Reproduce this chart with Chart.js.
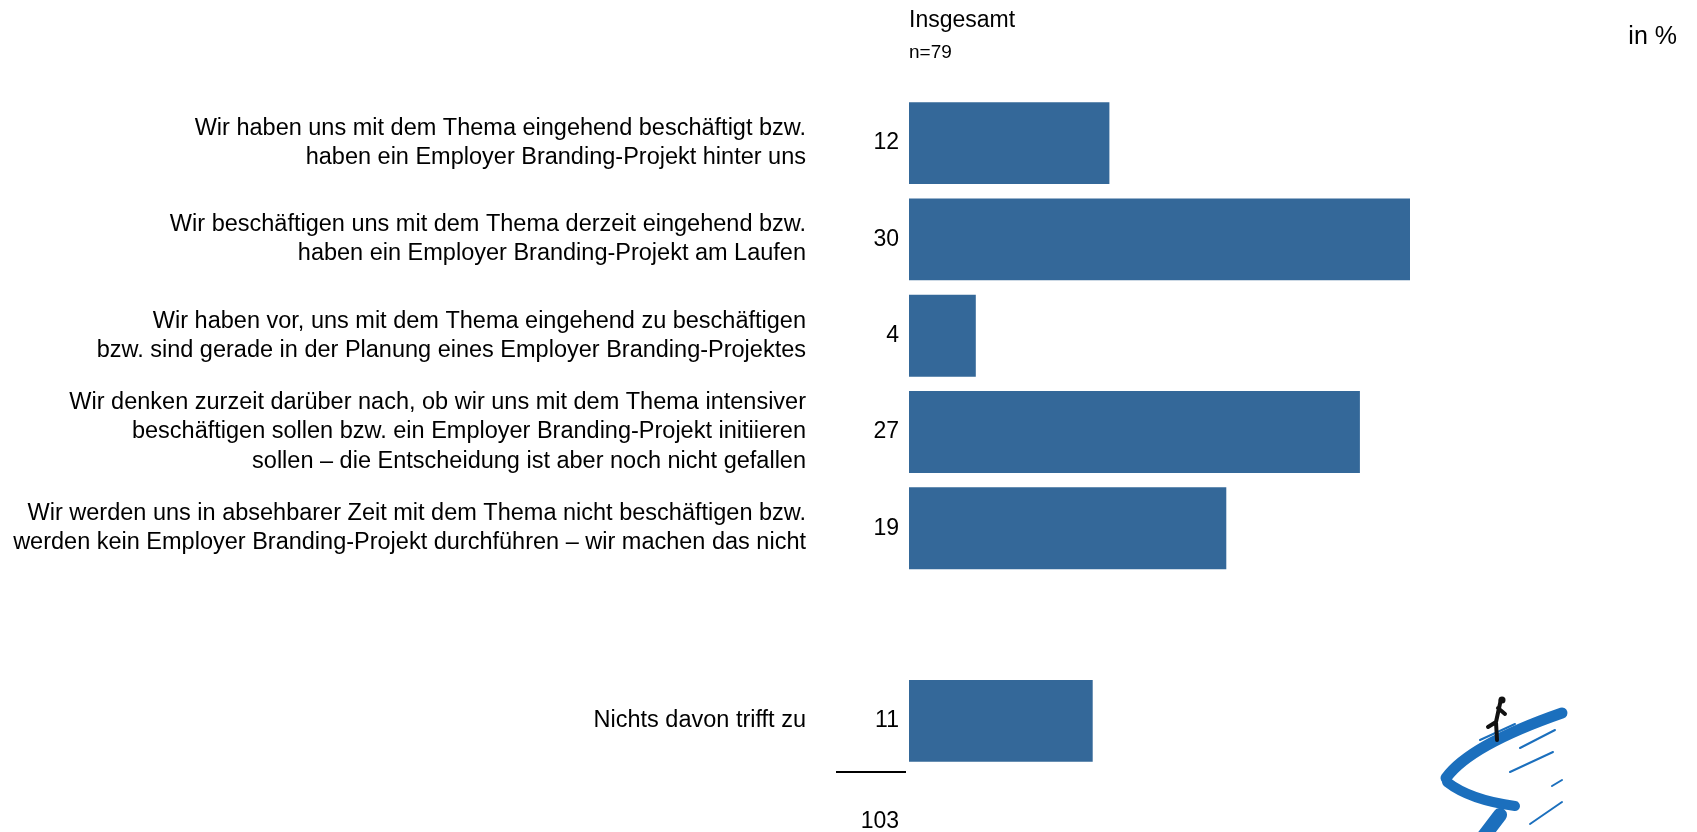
<!DOCTYPE html>
<html>
<head>
<meta charset="utf-8">
<script src="https://cdn.jsdelivr.net/npm/chart.js@4/dist/chart.umd.min.js"></script>
<style>
html,body{margin:0;padding:0;background:#fff}
#wrap{width:1697px;height:832px}
</style>
</head>
<body>
<div id="wrap"><canvas id="chart"></canvas></div>
<script>
// categories (empty slot before the last one)
const labels=[
["Wir haben uns mit dem Thema eingehend beschäftigt bzw.","haben ein Employer Branding-Projekt hinter uns"],
["Wir beschäftigen uns mit dem Thema derzeit eingehend bzw.","haben ein Employer Branding-Projekt am Laufen"],
["Wir haben vor, uns mit dem Thema eingehend zu beschäftigen","bzw. sind gerade in der Planung eines Employer Branding-Projektes"],
["Wir denken zurzeit darüber nach, ob wir uns mit dem Thema intensiver","beschäftigen sollen bzw. ein Employer Branding-Projekt initiieren","sollen – die Entscheidung ist aber noch nicht gefallen"],
["Wir werden uns in absehbarer Zeit mit dem Thema nicht beschäftigen bzw.","werden kein Employer Branding-Projekt durchführen – wir machen das nicht"],
"",
"Nichts davon trifft zu"
]
const values=[12,30,4,27,19,null,11]

const title="Insgesamt"
const subtitle="n=79"
const unit="in %"

const FONT="'Liberation Sans', Arial, sans-serif"
const BAR="#346899"

const total=values.reduce((a,b)=>a+(b||0),0)

const extras={
id:"extras",
afterDatasetsDraw(chart){
const ctx=chart.ctx
const area=chart.chartArea
const meta=chart.getDatasetMeta(0)
ctx.save()
ctx.fillStyle="#000"
ctx.textBaseline="middle"
ctx.textAlign="right"
ctx.font="23px "+FONT
meta.data.forEach((bar,i)=>{
if(values[i]==null) return
ctx.fillText(values[i],area.left-10,bar.y)
})
// sum line and total
ctx.strokeStyle="#000"
ctx.lineWidth=2
ctx.beginPath()
ctx.moveTo(area.left-73,area.bottom+3)
ctx.lineTo(area.left-3,area.bottom+3)
ctx.stroke()
ctx.fillText(total,area.left-10,area.bottom+53)
// header
ctx.textAlign="left"
ctx.textBaseline="alphabetic"
ctx.fillText(title,area.left,27)
ctx.font="19px "+FONT
ctx.fillText(subtitle,area.left,58)
ctx.textAlign="right"
ctx.font="25px "+FONT
ctx.fillText(unit,1677,44)
drawLogo(ctx)
ctx.restore()
}
}

// rough sketch of the logo in the bottom right corner
function drawLogo(ctx){
ctx.save()
ctx.strokeStyle="#1b6fbd"
ctx.lineCap="round"
ctx.lineWidth=11
ctx.beginPath()
ctx.moveTo(1562,713)
ctx.quadraticCurveTo(1470,745,1446,778)
ctx.stroke()
ctx.lineWidth=10
ctx.beginPath()
ctx.moveTo(1447,782)
ctx.quadraticCurveTo(1470,800,1515,806)
ctx.stroke()
ctx.lineWidth=14
ctx.beginPath()
ctx.moveTo(1500,815)
ctx.lineTo(1484,836)
ctx.stroke()
ctx.lineWidth=2
const streaks=[[1555,730,1520,748],[1553,752,1510,772],[1562,780,1552,786],[1562,802,1530,824],[1515,724,1480,740]]
streaks.forEach(s=>{
ctx.beginPath()
ctx.moveTo(s[0],s[1])
ctx.lineTo(s[2],s[3])
ctx.stroke()
})
// runner
ctx.strokeStyle="#111"
ctx.lineWidth=4
ctx.beginPath()
ctx.moveTo(1501,699)
ctx.lineTo(1496,722)
ctx.lineTo(1497,740)
ctx.moveTo(1496,722)
ctx.lineTo(1488,727)
ctx.moveTo(1498,708)
ctx.lineTo(1505,714)
ctx.stroke()
ctx.fillStyle="#111"
ctx.beginPath()
ctx.arc(1502,700,3.5,0,Math.PI*2)
ctx.fill()
ctx.restore()
}

new Chart(document.getElementById("chart"),{
type:"bar",
data:{
labels:labels,
datasets:[{
data:values,
backgroundColor:BAR,
borderWidth:0,
barPercentage:0.85,
categoryPercentage:1
}]
},
options:{
indexAxis:"y",
responsive:true,
maintainAspectRatio:false,
animation:false,
layout:{padding:{top:95,bottom:63,right:120,left:0}},
plugins:{legend:{display:false},tooltip:{enabled:false}},
scales:{
x:{
min:0,
max:40,
display:false
},
y:{
border:{display:false},
grid:{display:false,drawTicks:false},
afterFit(scale){
scale.width=909
scale.paddingTop=0
scale.paddingBottom=0
},
ticks:{
color:"#000",
padding:103,
autoSkip:false,
font:{family:FONT,size:23.5,lineHeight:1.24}
}
}
}
},
plugins:[extras]
})
</script>
